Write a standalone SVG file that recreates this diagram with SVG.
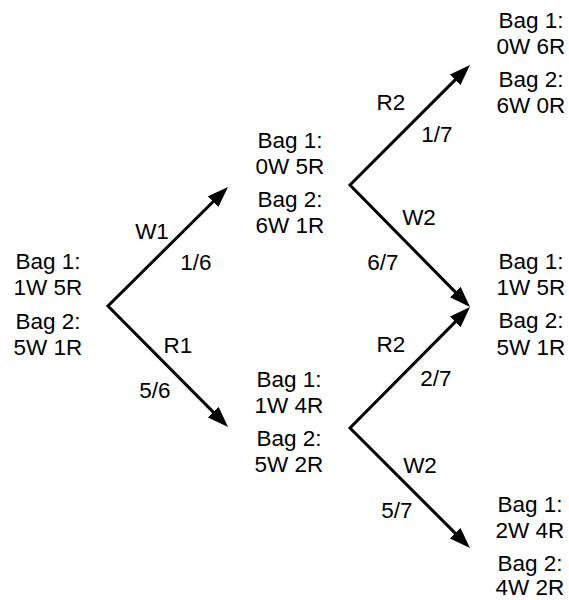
<svg xmlns="http://www.w3.org/2000/svg" width="569" height="600" viewBox="0 0 569 600">
<style>
text{font-family:"Liberation Sans",Arial,Helvetica,sans-serif;font-size:22.5px;fill:#000}
.n text{text-anchor:middle}
.l{text-anchor:middle}
.c path{fill:none;stroke:#000;stroke-width:3;stroke-linejoin:miter;marker-start:url(#ah);marker-end:url(#ah)}
</style>
<defs>
<marker id="ah" markerUnits="userSpaceOnUse" viewBox="0 0 21 15" markerWidth="21" markerHeight="15" refX="11" refY="7.5" orient="auto-start-reverse">
<path d="M0,0 L21,7.5 L0,15 z" fill="#000"/>
</marker>
</defs>
<rect width="569" height="600" fill="#fff"/>
<g id="connectors" class="c">
<path d="M220.9,194 L108,306 L221,419.9"/>
<path d="M462.9,72.1 L350,185 L463,299.9"/>
<path d="M463,314.1 L350,428 L462.9,540.9"/>
</g>
<g id="edge-labels">
<text class="l" x="152" y="239">W1</text>
<text class="l" x="196" y="270">1/6</text>
<text class="l" x="178" y="353">R1</text>
<text class="l" x="155" y="398">5/6</text>
<text class="l" x="391" y="110">R2</text>
<text class="l" x="437" y="142">1/7</text>
<text class="l" x="419" y="225">W2</text>
<text class="l" x="383" y="270">6/7</text>
<text class="l" x="391" y="352">R2</text>
<text class="l" x="436" y="386">2/7</text>
<text class="l" x="420" y="473">W2</text>
<text class="l" x="397" y="518">5/7</text>
</g>
<g id="node-start" class="n">
<text x="48" y="269">Bag 1:</text>
<text x="48" y="295">1W 5R</text>
<text x="48" y="329">Bag 2:</text>
<text x="48" y="355">5W 1R</text>
</g>
<g id="node-w1" class="n">
<text x="290" y="148">Bag 1:</text>
<text x="290" y="174">0W 5R</text>
<text x="290" y="207">Bag 2:</text>
<text x="290" y="233">6W 1R</text>
</g>
<g id="node-r1" class="n">
<text x="289" y="387">Bag 1:</text>
<text x="289" y="413">1W 4R</text>
<text x="289" y="446">Bag 2:</text>
<text x="289" y="472">5W 2R</text>
</g>
<g id="node-w1r2" class="n">
<text x="531" y="28">Bag 1:</text>
<text x="531" y="54">0W 6R</text>
<text x="531" y="87">Bag 2:</text>
<text x="531" y="113">6W 0R</text>
</g>
<g id="node-mid" class="n">
<text x="531" y="269">Bag 1:</text>
<text x="531" y="295">1W 5R</text>
<text x="531" y="328">Bag 2:</text>
<text x="531" y="355">5W 1R</text>
</g>
<g id="node-r1w2" class="n">
<text x="530" y="512">Bag 1:</text>
<text x="530" y="538">2W 4R</text>
<text x="530" y="571">Bag 2:</text>
<text x="530" y="595">4W 2R</text>
</g>
</svg>
